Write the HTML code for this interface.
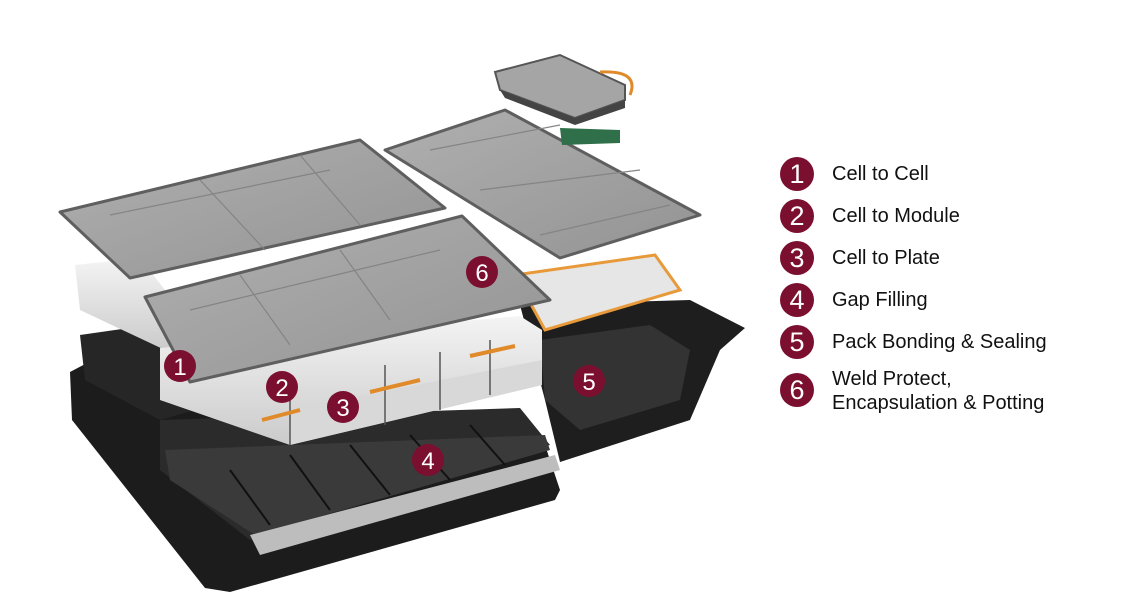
<!DOCTYPE html>
<html><head><style>
html,body{margin:0;padding:0;background:#fff;}
body{width:1147px;height:609px;position:relative;overflow:hidden;font-family:"Liberation Sans",Arial,sans-serif;}
.lg{position:absolute;left:780px;}
.c{position:absolute;left:0;width:34px;height:34px;border-radius:50%;background:#7b0f2f;color:#fff;font-size:27px;line-height:34px;text-align:center;}
.t{position:absolute;left:52px;font-size:20px;color:#111;line-height:24px;white-space:nowrap;}
</style></head><body>
<svg width="1147" height="609" style="position:absolute;left:0;top:0">
<defs>
<linearGradient id="pl" x1="0" y1="0" x2="1" y2="1"><stop offset="0" stop-color="#b0b0b0"/><stop offset="1" stop-color="#939393"/></linearGradient>
<linearGradient id="wh" x1="0" y1="0" x2="0" y2="1"><stop offset="0" stop-color="#f4f4f4"/><stop offset="1" stop-color="#cbcbcb"/></linearGradient>
</defs>
<!-- black trays -->
<polygon points="70,372 150,330 545,445 560,490 555,500 230,592 205,588 72,420" fill="#1c1c1c"/>
<polygon points="80,335 150,325 300,380 160,420 85,380" fill="#262626"/>
<polygon points="520,305 690,300 745,328 720,350 690,420 560,462 545,400" fill="#1e1e1e"/>
<polygon points="540,340 650,325 690,350 680,400 580,430 545,400" fill="#333"/>
<polygon points="160,420 520,408 550,445 250,540 160,470" fill="#2b2b2b"/>
<polygon points="165,450 545,435 550,450 255,535 170,480" fill="#3a3a3a"/>
<polygon points="250,535 555,455 560,470 260,555" fill="#bdbdbd"/>
<g stroke="#111" stroke-width="2"><line x1="230" y1="470" x2="270" y2="525"/><line x1="290" y1="455" x2="330" y2="510"/><line x1="350" y1="445" x2="390" y2="495"/><line x1="410" y1="435" x2="450" y2="480"/><line x1="470" y1="425" x2="505" y2="465"/></g>
<!-- white modules -->
<polygon points="75,265 140,258 200,335 165,350 80,310" fill="url(#wh)"/>
<polygon points="160,348 520,316 542,330 542,385 290,445 160,400" fill="url(#wh)"/>
<polygon points="290,410 542,360 542,385 290,445" fill="#d8d8d8"/>
<g stroke="#555" stroke-width="1.5"><line x1="290" y1="380" x2="290" y2="445"/><line x1="385" y1="365" x2="385" y2="425"/><line x1="440" y1="352" x2="440" y2="410"/><line x1="490" y1="340" x2="490" y2="395"/></g>
<g stroke="#e08a2a" stroke-width="4"><line x1="262" y1="420" x2="300" y2="410"/><line x1="370" y1="392" x2="420" y2="380"/><line x1="470" y1="356" x2="515" y2="346"/></g>
<polygon points="515,275 655,255 680,290 545,330" fill="#e6e6e6" stroke="#e89a3a" stroke-width="3"/>
<!-- plates -->
<polygon points="60,212 360,140 445,208 130,278" fill="url(#pl)" stroke="#5f5f5f" stroke-width="3" stroke-linejoin="round"/>
<polygon points="385,150 505,110 700,215 560,258" fill="url(#pl)" stroke="#5f5f5f" stroke-width="3" stroke-linejoin="round"/>
<polygon points="145,297 462,216 550,300 190,382" fill="url(#pl)" stroke="#5f5f5f" stroke-width="3" stroke-linejoin="round"/>
<g stroke="#848484" stroke-width="1.2" fill="none">
<line x1="200" y1="180" x2="265" y2="250"/><line x1="300" y1="155" x2="360" y2="225"/><line x1="110" y1="215" x2="330" y2="170"/>
<line x1="240" y1="275" x2="290" y2="345"/><line x1="340" y1="250" x2="390" y2="320"/><line x1="190" y1="310" x2="440" y2="250"/>
<line x1="430" y1="150" x2="560" y2="125"/><line x1="480" y1="190" x2="640" y2="170"/><line x1="540" y1="235" x2="670" y2="205"/>
</g>
<polygon points="495,72 560,55 625,85 625,100 575,118 500,90" fill="#a5a5a5" stroke="#555" stroke-width="2"/>
<polygon points="500,90 575,118 625,100 625,108 575,125 505,98" fill="#444"/>
<path d="M600,72 Q640,70 630,95" stroke="#e08a2a" stroke-width="3" fill="none"/>
<polygon points="560,128 620,130 620,143 562,145" fill="#2f6f4a"/>
<!-- badges -->
<g fill="#7b0f2f"><circle cx="180" cy="366" r="16"/><circle cx="282" cy="387" r="16"/><circle cx="343" cy="407" r="16"/><circle cx="428" cy="460" r="16"/><circle cx="589" cy="381" r="16"/><circle cx="482" cy="272" r="16"/></g>
<g fill="#fff" font-family="Liberation Sans" font-size="24" text-anchor="middle"><text x="180" y="375">1</text><text x="282" y="396">2</text><text x="343" y="416">3</text><text x="428" y="469">4</text><text x="589" y="390">5</text><text x="482" y="281">6</text></g>
</svg>
<div class="lg" style="top:157px"><div class="c">1</div><div class="t" style="top:5px">Cell to Cell</div></div>
<div class="lg" style="top:199px"><div class="c">2</div><div class="t" style="top:5px">Cell to Module</div></div>
<div class="lg" style="top:241px"><div class="c">3</div><div class="t" style="top:5px">Cell to Plate</div></div>
<div class="lg" style="top:283px"><div class="c">4</div><div class="t" style="top:5px">Gap Filling</div></div>
<div class="lg" style="top:325px"><div class="c">5</div><div class="t" style="top:5px">Pack Bonding &amp; Sealing</div></div>
<div class="lg" style="top:373px"><div class="c">6</div><div class="t" style="top:-6px">Weld Protect,<br>Encapsulation &amp; Potting</div></div>
</body></html>
